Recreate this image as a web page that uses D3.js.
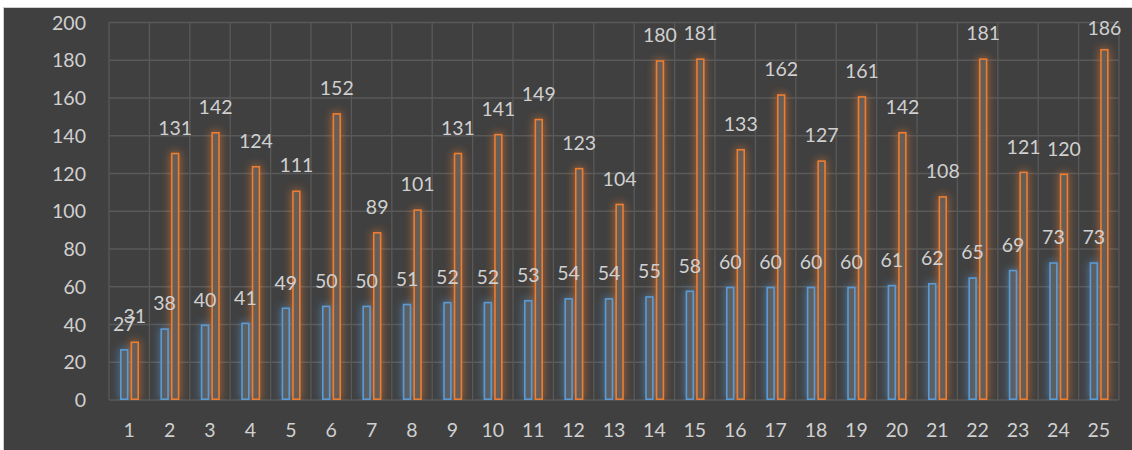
<!DOCTYPE html>
<html>
<head>
<meta charset="utf-8">
<script src="https://cdn.jsdelivr.net/npm/d3@7"></script>
<style>
  body { margin: 0; background: white; }
  text { font-family: Lato, "Open Sans", sans-serif; }
</style>
</head>
<body>
<div id="viz-container"></div>
<script>
let w = 1132;
let h = 450;

// data
let categories = d3.range(1, 26).map(String);
let blueValues = [27, 38, 40, 41, 49, 50, 50, 51, 52, 52, 53, 54, 54, 55, 58, 60, 60, 60, 60, 61, 62, 65, 69, 73, 73];
let orangeValues = [31, 131, 142, 124, 111, 152, 89, 101, 131, 141, 149, 123, 104, 180, 181, 133, 162, 127, 161, 142, 108, 181, 121, 120, 186];
let yTicks = [0, 20, 40, 60, 80, 100, 120, 140, 160, 180, 200];

let series = [
  { key: "blue", color: "#5B9BD5", values: blueValues },
  { key: "orange", color: "#ED7D31", values: orangeValues }
];

let plotLeft = 109, plotRight = 1119, plotTop = 22.5, plotBottom = 400;

let viz = d3.select("#viz-container")
  .append("svg")
    .attr("width", w)
    .attr("height", h)
    .style("display", "block");

// chart frame
viz.append("rect")
  .attr("x", 3.5).attr("y", 7.5)
  .attr("width", w).attr("height", h)
  .attr("fill", "#404040")
  .attr("stroke", "#cfcfcf")
  .attr("stroke-width", 1);

let defs = viz.append("defs");
defs.append("filter")
  .attr("id", "glow")
  .attr("x", "-200%").attr("y", "-50%")
  .attr("width", "500%").attr("height", "200%")
  .append("feGaussianBlur")
  .attr("stdDeviation", 4);
defs.append("clipPath").attr("id", "plotclip")
  .append("rect")
  .attr("x", plotLeft - 20).attr("y", 0)
  .attr("width", plotRight - plotLeft + 40).attr("height", plotBottom);

let x = d3.scaleBand().domain(categories).range([plotLeft, plotRight]);
let xs = d3.scaleBand().domain(series.map(d => d.key)).range([11, 30]).paddingInner(0.2);
let y = d3.scaleLinear().domain([0, 200]).range([plotBottom, plotTop]);

// gridlines
viz.append("g").selectAll("line").data(yTicks).enter()
  .append("line")
  .attr("x1", plotLeft).attr("x2", plotRight)
  .attr("y1", d => y(d)).attr("y2", d => y(d))
  .attr("stroke", "#595959").attr("stroke-width", 1.3);

viz.append("g").selectAll("line").data(d3.range(categories.length + 1)).enter()
  .append("line")
  .attr("x1", i => plotLeft + i * x.bandwidth()).attr("x2", i => plotLeft + i * x.bandwidth())
  .attr("y1", plotTop).attr("y2", plotBottom)
  .attr("stroke", "#595959").attr("stroke-width", 1.3);

// y tick labels
viz.append("g").selectAll("text").data(yTicks).enter()
  .append("text")
  .attr("x", 86)
  .attr("y", d => y(d))
  .attr("dy", "0.36em")
  .attr("text-anchor", "end")
  .attr("font-size", 19.5)
  .attr("fill", "#d0d0d0")
  .text(d => d);

// x tick labels
viz.append("g").selectAll("text").data(categories).enter()
  .append("text")
  .attr("x", d => x(d) + x.bandwidth() / 2)
  .attr("y", 437)
  .attr("text-anchor", "middle")
  .attr("font-size", 19.5)
  .attr("fill", "#d0d0d0")
  .text(d => d);

// bars
let glowLayer = viz.append("g").attr("clip-path", "url(#plotclip)");
let barLayer = viz.append("g");
let labelLayer = viz.append("g");

series.forEach(function(s){
  let rows = s.values.map((v, i) => ({ cat: categories[i], value: v }));

  glowLayer.selectAll(".glow-" + s.key).data(rows).enter()
    .append("rect")
    .attr("class", "glow-" + s.key)
    .attr("x", d => x(d.cat) + xs(s.key) - 1)
    .attr("y", d => y(d.value) - 1)
    .attr("width", xs.bandwidth() + 2)
    .attr("height", d => plotBottom - y(d.value) + 1)
    .attr("fill", s.color)
    .attr("opacity", 0.55)
    .attr("filter", "url(#glow)");

  barLayer.selectAll(".bar-" + s.key).data(rows).enter()
    .append("rect")
    .attr("class", "bar-" + s.key)
    .attr("x", d => x(d.cat) + xs(s.key) + 0.8)
    .attr("y", d => y(d.value) + 0.8)
    .attr("width", xs.bandwidth() - 1.6)
    .attr("height", d => plotBottom - y(d.value) - 1.6)
    .attr("fill", "#5e5e5e")
    .attr("fill-opacity", 0.85)
    .attr("stroke", s.color)
    .attr("stroke-width", 1.6);

  labelLayer.selectAll(".label-" + s.key).data(rows).enter()
    .append("text")
    .attr("class", "label-" + s.key)
    .attr("x", d => x(d.cat) + xs(s.key) + xs.bandwidth() / 2)
    .attr("y", d => Math.max(35, y(d.value) - 18))
    .attr("text-anchor", "middle")
    .attr("font-size", 19.5)
    .attr("fill", "#d0d0d0")
    .text(d => d.value);
});
</script>
</body>
</html>
